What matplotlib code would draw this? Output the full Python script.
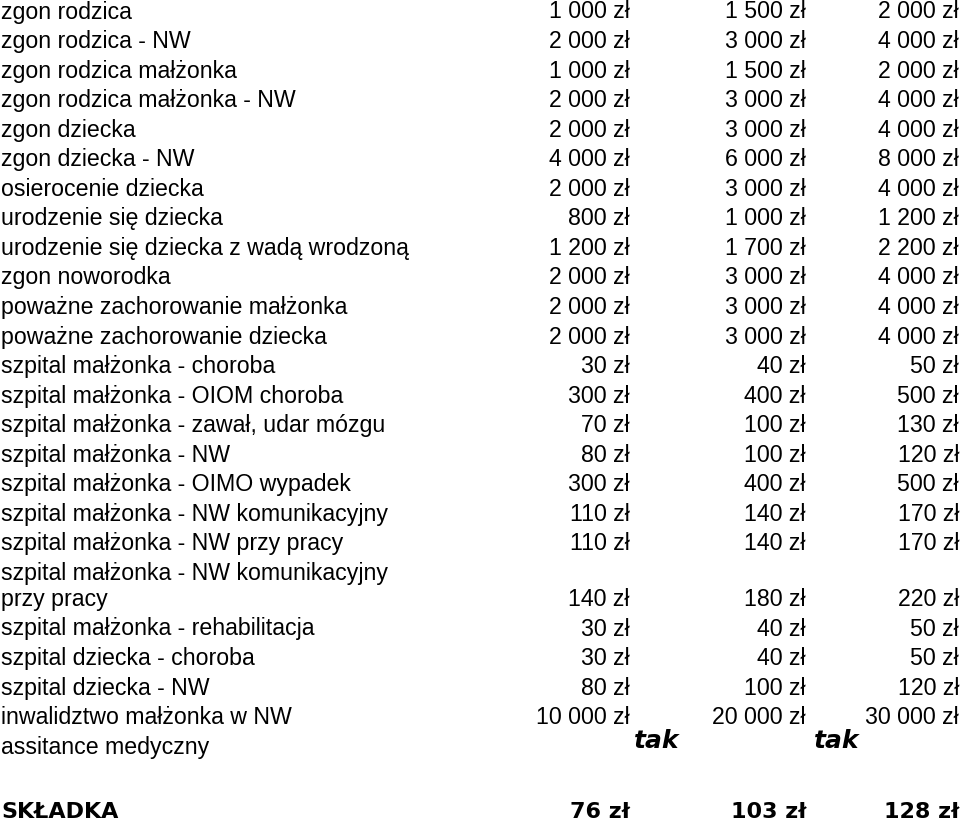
import matplotlib
matplotlib.use('Agg')
import matplotlib.pyplot as plt

plt.rcParams['font.family'] = ['Liberation Sans', 'DejaVu Sans']

# dane tabeli
labels = [
    'zgon rodzica', 'zgon rodzica - NW', 'zgon rodzica małżonka',
    'zgon rodzica małżonka - NW', 'zgon dziecka', 'zgon dziecka - NW',
    'osierocenie dziecka', 'urodzenie się dziecka',
    'urodzenie się dziecka z wadą wrodzoną', 'zgon noworodka',
    'poważne zachorowanie małżonka', 'poważne zachorowanie dziecka',
    'szpital małżonka - choroba', 'szpital małżonka - OIOM choroba',
    'szpital małżonka - zawał, udar mózgu', 'szpital małżonka - NW',
    'szpital małżonka - OIMO wypadek', 'szpital małżonka - NW komunikacyjny',
    'szpital małżonka - NW przy pracy',
    'szpital małżonka - NW komunikacyjny\nprzy pracy',
    'szpital małżonka - rehabilitacja', 'szpital dziecka - choroba',
    'szpital dziecka - NW', 'inwalidztwo małżonka w NW',
]
wariant1 = [1000, 2000, 1000, 2000, 2000, 4000, 2000, 800, 1200, 2000, 2000, 2000,
            30, 300, 70, 80, 300, 110, 110, 140, 30, 30, 80, 10000]
wariant2 = [1500, 3000, 1500, 3000, 3000, 6000, 3000, 1000, 1700, 3000, 3000, 3000,
            40, 400, 100, 100, 400, 140, 140, 180, 40, 40, 100, 20000]
wariant3 = [2000, 4000, 2000, 4000, 4000, 8000, 4000, 1200, 2200, 4000, 4000, 4000,
            50, 500, 130, 120, 500, 170, 170, 220, 50, 50, 120, 30000]
assistance_label = 'assitance medyczny'
assistance = ['tak', 'tak']
skladka_label = 'SKŁADKA'
skladka = [76, 103, 128]


def zl(v):
    return f'{v:,}'.replace(',', ' ') + ' zł'


fig = plt.figure(figsize=(9.6, 8.26), dpi=100)
ax = fig.add_axes([0, 0, 1, 1])
ax.set_xlim(0, 960)
ax.set_ylim(826, 0)
ax.axis('off')

col_x = [630, 806, 959]
step = 29.55
line_gap = 26
fs = 16.7

y = 12
for lab, a, b, c in zip(labels, wariant1, wariant2, wariant3):
    lines = lab.split('\n')
    for k, ln in enumerate(lines):
        ax.text(1, y + k * line_gap, ln, fontsize=fs, va='center', ha='left')
    vy = y + (len(lines) - 1) * line_gap
    for x, v in zip(col_x, (a, b, c)):
        ax.text(x, vy, zl(v), fontsize=fs, va='center', ha='right')
    y = vy + step

ax.text(1, y, assistance_label, fontsize=fs, va='center', ha='left')
for x, t in zip([657, 837], assistance):
    ax.text(x, y - 6, t, fontsize=18, fontweight='bold', style='italic',
            va='center', ha='center', family='DejaVu Sans')

ys = 812
ax.text(1, ys, skladka_label, fontsize=16, fontweight='bold', va='center', ha='left',
        family='DejaVu Sans')
for x, v in zip(col_x, skladka):
    ax.text(x, ys, f'{v} zł', fontsize=16, fontweight='bold', va='center', ha='right',
            family='DejaVu Sans')

fig.savefig('out.png', dpi=100)
